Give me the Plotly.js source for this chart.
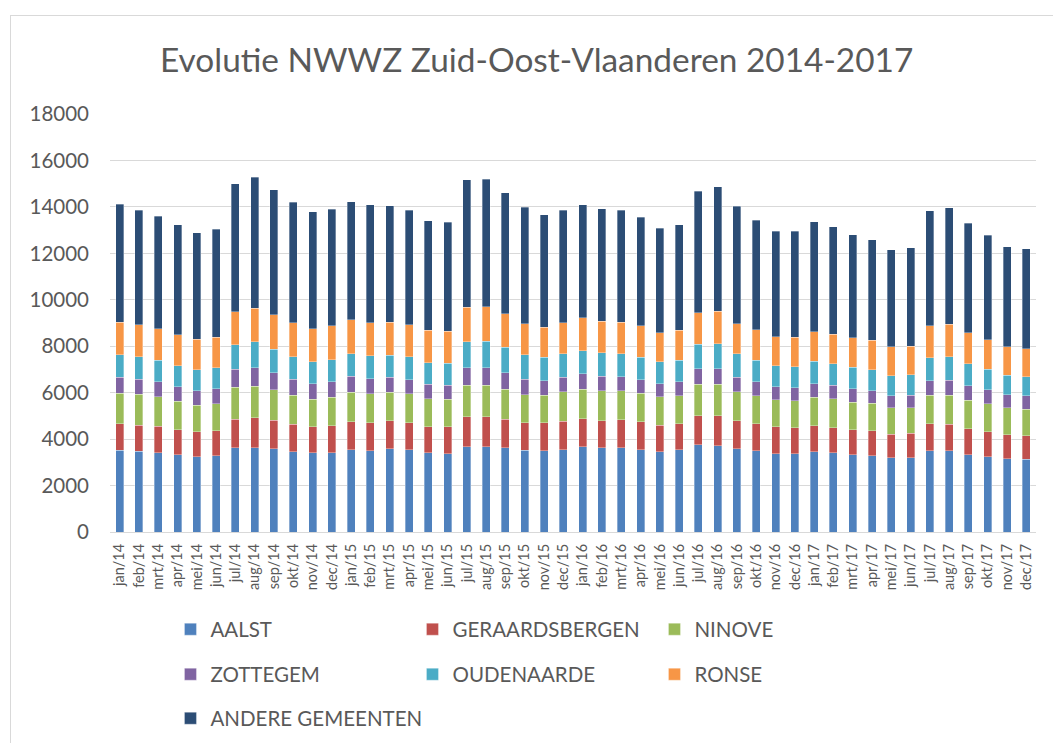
<!DOCTYPE html>
<html>
<head>
<meta charset="utf-8">
<script src="https://cdn.plot.ly/plotly-3.0.1.min.js"></script>
<style>
  html, body { margin: 0; padding: 0; background: #ffffff; }
  #wrap { position: relative; width: 1053px; height: 743px; overflow: hidden; }
  #frame { position: absolute; left: 10px; top: 15px; width: 1100px; height: 800px; border-left: 1px solid #d9d9d9; border-top: 1px solid #d9d9d9; }
  #chart { position: absolute; left: 0; top: 0; width: 1053px; height: 743px; }
</style>
</head>
<body>
<div id="wrap">
  <div id="frame"></div>
  <div id="chart"></div>
</div>
<script>
const months = ["jan/14","feb/14","mrt/14","apr/14","mei/14","jun/14","jul/14","aug/14","sep/14","okt/14","nov/14","dec/14",
  "jan/15","feb/15","mrt/15","apr/15","mei/15","jun/15","jul/15","aug/15","sep/15","okt/15","nov/15","dec/15",
  "jan/16","feb/16","mrt/16","apr/16","mei/16","jun/16","jul/16","aug/16","sep/16","okt/16","nov/16","dec/16",
  "jan/17","feb/17","mrt/17","apr/17","mei/17","jun/17","jul/17","aug/17","sep/17","okt/17","nov/17","dec/17"];

const aalst = [3520,3475,3418,3317,3231,3288,3633,3633,3576,3461,3403,3418,
  3547,3504,3576,3547,3418,3374,3662,3662,3633,3518,3489,3547,
  3662,3619,3619,3547,3461,3532,3762,3719,3576,3504,3374,3374,
  3461,3403,3331,3288,3202,3202,3489,3489,3317,3231,3159,3130];
const geraardsbergen = [1150,1120,1134,1091,1077,1077,1221,1278,1234,1177,1120,1148,
  1192,1192,1206,1149,1105,1149,1292,1292,1221,1178,1207,1220,
  1206,1177,1206,1192,1134,1135,1249,1278,1206,1148,1149,1106,
  1105,1092,1063,1077,1005,1048,1163,1149,1120,1077,1020,1006];
const ninove = [1310,1335,1264,1221,1149,1163,1378,1364,1307,1249,1192,1235,
  1278,1249,1235,1249,1221,1192,1364,1364,1292,1220,1191,1264,
  1278,1278,1263,1235,1221,1206,1350,1364,1249,1221,1163,1178,
  1235,1249,1192,1178,1135,1092,1235,1249,1235,1221,1163,1148];
const zottegem = [690,647,660,617,631,647,775,804,747,690,661,675,
  689,646,646,617,617,603,747,747,704,661,618,632,
  660,632,589,574,560,603,661,661,632,589,560,545,
  589,574,574,545,517,545,618,647,618,588,560,575];
const oudenaarde = [960,962,919,905,891,904,1063,1106,1005,976,947,948,
  976,991,948,977,934,948,1120,1149,1105,1048,1019,1005,
  1006,1005,1005,976,947,919,1062,1077,1005,933,905,919,
  962,919,934,905,876,876,991,1005,947,890,847,818];
const ronse = [1410,1378,1350,1350,1321,1307,1422,1450,1479,1450,1436,1450,
  1465,1421,1421,1393,1393,1378,1493,1479,1450,1350,1293,1335,
  1407,1364,1350,1350,1264,1293,1350,1407,1307,1307,1264,1264,
  1264,1278,1263,1264,1235,1235,1378,1407,1336,1278,1221,1221];
const andere = [5070,4940,4854,4724,4595,4653,5514,5644,5385,5199,5026,5026,
  5069,5098,5026,4925,4709,4696,5486,5500,5199,5011,4839,4854,
  4868,4854,4825,4681,4495,4537,5241,5356,5054,4724,4537,4566,
  4738,4624,4452,4336,4193,4236,4954,5011,4724,4495,4307,4308];

const seriesNames = ["AALST","GERAARDSBERGEN","NINOVE","ZOTTEGEM","OUDENAARDE","RONSE","ANDERE GEMEENTEN"];
const seriesValues = [aalst, geraardsbergen, ninove, zottegem, oudenaarde, ronse, andere];
const seriesColors = ["#4f81bd","#c0504d","#9bbb59","#8064a2","#4bacc6","#f79646","#2c4d75"];
const legendRows = ["legend","legend","legend","legend2","legend2","legend2","legend3"];

const FONT = "Lato, 'Open Sans', sans-serif";
const GREY = "#595959";

const traces = seriesNames.map((name, i) => ({
  type: "bar",
  name: name,
  x: months,
  y: seriesValues[i],
  legend: legendRows[i],
  marker: { color: seriesColors[i], line: { color: "rgba(255,255,255,0.55)", width: 0.6 } },
  hoverinfo: "x+y+name"
}));

const legendBase = {
  orientation: "h",
  xref: "paper", yref: "paper",
  xanchor: "left", yanchor: "middle",
  x: 0.0653,
  entrywidth: 197, entrywidthmode: "pixels",
  traceorder: "normal",
  bgcolor: "rgba(0,0,0,0)",
  font: { family: FONT, size: 20.5, color: GREY }
};

const layout = {
  width: 1053, height: 743,
  paper_bgcolor: "rgba(0,0,0,0)",
  plot_bgcolor: "rgba(0,0,0,0)",
  margin: { l: 110.4, r: 16.7, t: 113.9, b: 211.3, autoexpand: false },
  barmode: "stack",
  bargap: 0.585,
  title: {
    text: "Evolutie NWWZ Zuid-Oost-Vlaanderen 2014-2017",
    font: { family: FONT, size: 33.4, color: GREY },
    x: 0.4608, xref: "paper", xanchor: "center",
    y: 1 - 60 / 743, yref: "container", yanchor: "middle"
  },
  xaxis: {
    type: "category",
    automargin: false,
    tickangle: -90,
    tickfont: { family: FONT, size: 14.5, color: GREY },
    showgrid: false,
    showline: false,
    ticks: "",
    ticklabelstandoff: 8,
    zeroline: false
  },
  yaxis: {
    automargin: false,
    range: [0, 18000],
    dtick: 2000,
    tickfont: { family: FONT, size: 20.5, color: GREY },
    gridcolor: "#d9d9d9",
    gridwidth: 1.3,
    zeroline: true, zerolinecolor: "#d9d9d9", zerolinewidth: 1.3,
    showline: false,
    ticks: "",
    ticklabelstandoff: 20,
    tickformat: "d"
  },
  legend: Object.assign({}, legendBase, { y: -0.2329 }),
  legend2: Object.assign({}, legendBase, { y: -0.3406 }),
  legend3: Object.assign({}, legendBase, { y: -0.4459, entrywidth: 400 }),
  showlegend: true
};

Plotly.newPlot("chart", traces, layout, { displayModeBar: false });
</script>
</body>
</html>
